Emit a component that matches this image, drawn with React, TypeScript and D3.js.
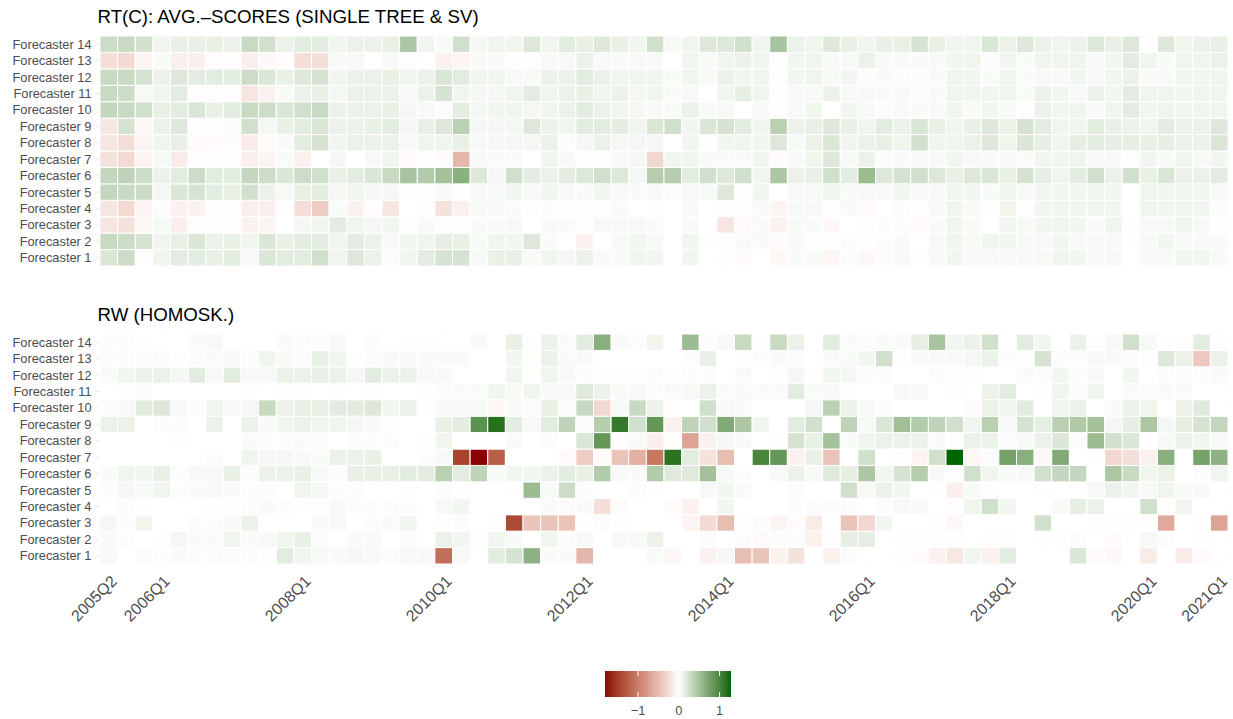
import React from "react";
import * as d3 from "d3";

// ---------- categories ----------
const QUARTERS: string[] = [];
for (let y = 2005; y <= 2021; y++) {
  for (let q = 1; q <= 4; q++) {
    if ((y > 2005 || q >= 2) && (y < 2021 || q <= 1)) QUARTERS.push(`${y}Q${q}`);
  }
}
const X_TICKS = ["2005Q2", "2006Q1", "2008Q1", "2010Q1", "2012Q1", "2014Q1", "2016Q1", "2018Q1", "2020Q1", "2021Q1"];
const FORECASTERS = Array.from({ length: 14 }, (_, i) => `Forecaster ${i + 1}`);
const LEGEND_TICKS = [-1, 0, 1];

// ---------- panel 1: RT(C) ----------
const rtF14 = [0.28,0.3,0.24,0.08,0.12,0.12,0.12,0.1,0.3,0.25,0.1,0.15,0.15,0.08,0.1,0.1, 0.12,0.45,0.08,0.03,0.25,0.06,0.08,0.08,0.18,0.08,0.15,0.12,0.18,0.12,0.08,0.25, 0.05,0.08,0.18,0.18,0.25,0.08,0.48,0.1,0.08,0.18,0.12,0.08,0.12,0.12,0.22,0.12, 0.08,0.08,0.2,0.1,0.18,0.1,0.08,0.1,0.18,0.12,0.18,0.0,0.18,0.08,0.1,0.12];
const rtF13 = [-0.25,-0.28,-0.08,0.03,-0.12,-0.12,-0.02,-0.02,-0.12,-0.05,-0.02,-0.25,-0.25,0.05,0.05,0.0, 0.04,-0.02,0.0,-0.1,-0.08,0.04,0.04,0.01,-0.02,0.05,0.05,0.1,0.05,0.04,0.05,0.05, 0.0,0.08,0.05,0.08,0.1,0.08,-0.01,0.07,0.08,0.04,0.05,0.1,0.04,0.04,0.03,0.05, 0.07,0.08,0.02,0.07,0.03,0.08,0.08,0.08,0.04,0.07,0.15,0.07,0.04,0.08,0.08,0.1];
const rtF12 = [0.3,0.3,0.22,0.1,0.18,0.15,0.15,0.15,0.28,0.2,0.12,0.18,0.22,0.08,0.1,0.1, 0.12,0.08,0.1,0.2,0.15,0.08,0.08,0.05,0.04,0.1,0.1,0.15,0.1,0.08,0.08,0.08, 0.03,0.08,0.05,0.1,0.08,0.08,-0.01,0.07,0.08,0.04,0.07,0.02,0.03,0.02,0.02,0.04, 0.08,0.07,0.03,0.07,0.03,0.05,0.05,0.07,0.04,0.07,0.1,0.04,0.04,0.07,0.07,0.08];
const rtF11 = [0.3,0.28,0.05,0.08,0.15,-0.02,-0.02,-0.02,-0.2,-0.1,0.04,0.1,0.12,0.06,0.1,0.1, 0.1,0.04,0.1,0.22,0.08,0.06,0.06,0.08,0.15,0.08,0.1,0.12,0.08,0.1,0.06,0.08, 0.03,0.05,0.0,0.08,0.13,0.08,-0.01,0.05,0.05,0.1,0.05,0.05,0.04,0.04,0.02,0.04, 0.08,0.08,0.07,0.08,0.03,0.1,0.07,0.05,0.1,0.07,0.15,0.08,0.08,0.07,0.08,0.08];
const rtF10 = [0.32,0.3,0.25,0.12,0.15,0.2,0.12,0.15,0.3,0.28,0.2,0.25,0.3,0.1,0.1,0.1, 0.12,0.06,0.05,0.02,0.14,0.06,0.08,0.08,0.06,0.08,0.1,0.15,0.1,0.08,0.06,0.05, 0.04,0.1,0.04,0.05,0.0,0.05,0.01,0.05,0.08,0.0,0.07,0.04,0.02,0.04,0.03,0.05, 0.08,0.04,0.07,0.05,0.01,0.1,0.07,0.08,0.04,0.08,0.15,0.07,0.08,0.07,0.08,0.08];
const rtF9 = [-0.18,0.22,-0.06,0.1,0.18,-0.02,-0.01,0.02,0.25,0.06,0.12,0.15,0.2,0.1,0.1,0.12, 0.15,0.06,0.12,0.18,0.38,0.06,0.06,0.06,0.18,0.1,0.08,0.15,0.15,0.14,0.08,0.2, 0.25,0.07,0.2,0.22,0.15,0.07,0.38,0.1,0.12,0.18,0.12,0.08,0.15,0.1,0.2,0.12, 0.08,0.12,0.18,0.1,0.22,0.15,0.08,0.08,0.15,0.12,0.1,0.08,0.15,0.1,0.1,0.18];
const rtF8 = [-0.2,-0.25,-0.08,0.08,0.12,-0.04,-0.03,0.02,-0.15,-0.03,0.03,0.15,0.22,0.08,0.1,0.1, 0.1,0.05,0.08,0.08,0.12,0.05,0.06,0.06,0.06,0.1,0.02,0.06,0.1,0.06,0.06,0.06, 0.0,0.08,0.01,0.07,0.08,0.07,0.18,0.05,0.1,0.2,0.08,0.1,0.12,0.08,0.25,0.08, 0.08,0.1,0.18,0.08,0.2,0.13,0.08,0.13,0.15,0.13,0.13,0.12,0.13,0.1,0.1,0.2];
const rtF7 = [-0.22,-0.28,-0.08,0.05,-0.15,-0.02,-0.02,-0.02,-0.12,-0.08,0.03,-0.1,0.0,0.06,0.0,0.05, 0.08,-0.03,0.01,-0.03,-0.55,0.04,0.03,0.03,0.0,0.08,0.05,-0.01,-0.01,0.04,0.06,-0.3, 0.07,0.08,0.04,0.03,0.03,0.07,-0.03,0.04,0.08,0.18,0.05,0.1,0.02,0.04,0.04,0.05, 0.07,0.05,0.04,0.04,0.03,0.07,0.07,0.08,0.04,0.04,-0.02,0.07,0.04,0.07,0.05,0.07];
const rtF6 = [0.32,0.35,0.28,0.1,0.15,0.28,0.15,0.15,0.32,0.28,0.2,0.28,0.25,0.12,0.15,0.2, 0.3,0.48,0.42,0.5,0.64,0.18,0.06,0.25,0.15,0.1,0.14,0.18,0.25,0.18,0.06,0.4, 0.4,0.15,0.25,0.18,0.25,0.07,0.45,0.1,0.12,0.25,0.15,0.55,0.18,0.22,0.25,0.18, 0.12,0.18,0.2,0.12,0.22,0.13,0.08,0.15,0.25,0.1,0.25,0.12,0.2,0.1,0.1,0.15];
const rtF5 = [0.32,0.3,0.28,0.06,0.2,0.22,0.15,0.12,0.25,0.1,0.05,0.12,0.15,0.06,0.08,0.06, 0.06,-0.01,-0.01,0.03,0.01,0.05,0.04,0.07,0.05,0.08,0.05,0.03,0.08,0.05,0.03,0.05, 0.02,0.05,0.05,0.18,0.01,0.07,0.0,0.05,0.05,0.08,0.04,0.04,0.04,0.07,0.03,0.04, 0.07,0.07,0.03,0.07,0.04,0.07,0.07,0.07,0.07,0.07,0.0,0.08,0.07,0.07,0.07,0.04];
const rtF4 = [-0.2,-0.28,-0.08,0.02,-0.1,-0.1,-0.02,-0.02,-0.12,-0.12,-0.02,-0.25,-0.38,0.03,-0.1,-0.02, -0.18,0.0,-0.01,-0.22,-0.1,0.04,0.04,0.03,-0.02,0.02,-0.02,-0.01,-0.01,0.03,0.0,-0.01, 0.0,0.04,0.0,-0.01,-0.01,0.04,-0.08,0.05,0.05,-0.01,0.04,-0.03,0.0,0.02,-0.02,0.04, 0.08,0.04,0.01,0.08,0.01,0.07,0.07,0.07,0.07,0.07,0.0,0.08,0.07,0.08,0.07,0.02];
const rtF3 = [-0.2,-0.22,-0.06,0.05,-0.12,-0.02,-0.02,-0.02,-0.1,-0.08,0.0,0.06,0.08,0.15,0.08,0.06, 0.07,-0.02,0.04,-0.02,-0.02,0.04,0.04,0.05,0.0,0.04,0.04,-0.02,0.05,0.05,0.05,0.03, 0.0,0.04,0.0,-0.2,-0.04,0.04,-0.1,0.05,0.04,-0.05,0.0,-0.02,0.02,0.02,-0.04,0.04, 0.08,0.04,0.0,0.07,0.05,0.07,0.08,0.07,0.04,0.08,0.01,0.05,0.05,0.08,0.05,0.01];
const rtF2 = [0.3,0.28,0.22,0.08,0.12,0.2,0.1,0.12,0.08,0.2,0.12,0.15,0.15,0.08,0.15,0.1, 0.05,0.07,0.08,0.13,0.12,0.04,0.08,0.07,0.18,0.03,0.0,-0.1,0.0,0.05,0.07,0.05, 0.0,0.07,-0.01,-0.01,0.03,0.04,-0.03,0.04,0.01,0.01,0.02,0.01,0.02,0.03,0.0,0.05, 0.08,0.04,0.08,0.07,0.05,0.05,0.07,0.05,0.05,0.04,0.01,0.05,0.07,0.05,0.04,0.04];
const rtF1 = [0.2,0.28,0.01,0.08,0.15,0.15,0.12,0.15,0.04,0.2,0.15,0.15,0.25,0.08,0.18,0.1, 0.02,0.07,0.15,0.22,0.22,0.05,0.12,0.12,0.04,0.08,0.06,0.1,0.04,0.04,0.08,0.07, 0.0,0.07,0.0,0.01,-0.03,0.0,-0.06,0.04,0.04,-0.07,0.02,-0.05,0.02,0.04,0.01,0.04, 0.07,0.04,0.04,0.05,0.04,0.05,0.08,0.07,0.04,0.05,0.0,0.04,0.04,0.07,0.07,0.04];

// ---------- panel 2: RW ----------
const rwF14 = [0.02,0.02,0.01,0.0,0.0,0.03,0.05,0.0,0.0,0.0,0.03,0.02,0.02,0.04,0.0,0.02, 0.0,0.01,0.01,0.0,0.0,0.04,0.0,0.12,0.01,0.1,0.03,0.15,0.65,0.03,0.02,0.08, 0.0,0.54,0.02,0.05,0.3,0.01,0.3,0.1,0.0,0.15,0.03,0.02,0.03,0.03,0.13,0.48, 0.07,0.1,0.25,0.0,0.15,0.07,0.0,0.1,0.01,0.05,0.25,0.05,-0.01,-0.01,0.15,0.01];
const rwF13 = [0.02,0.02,0.02,0.02,0.01,0.02,0.03,0.05,0.02,0.08,0.04,0.02,0.12,0.08,0.01,0.02, 0.04,0.04,0.04,0.04,0.03,0.0,0.0,0.07,-0.01,0.1,0.04,0.03,0.0,0.0,0.0,0.0, 0.0,0.02,0.12,0.0,0.01,0.02,0.03,0.02,0.0,0.03,0.04,0.07,0.25,-0.01,0.03,0.04, 0.04,0.06,0.1,0.02,0.01,0.22,0.02,0.02,0.05,0.04,0.02,-0.01,0.18,0.1,-0.42,0.1];
const rwF12 = [0.03,0.07,0.1,0.1,0.06,0.15,0.05,0.15,0.05,0.05,0.1,0.1,0.12,0.1,0.06,0.15, 0.1,0.1,0.05,0.04,0.0,0.0,0.0,0.08,-0.01,0.08,0.05,0.02,-0.02,0.01,0.01,0.02, 0.01,0.02,0.02,0.0,0.03,0.0,0.01,0.06,-0.01,0.07,0.06,0.02,0.02,0.0,0.0,0.02, 0.01,-0.01,0.0,0.0,0.03,0.02,0.07,0.02,0.04,0.0,0.07,0.0,0.02,0.02,0.02,0.03];
const rwF11 = [0.0,0.01,0.02,0.0,0.0,0.0,0.0,0.0,0.01,0.0,0.01,0.01,0.0,0.01,0.0,0.01, 0.0,0.0,0.01,0.02,0.03,0.03,0.07,0.04,0.08,0.04,0.05,0.17,0.1,0.04,0.05,0.02, 0.03,0.05,0.1,0.03,0.04,0.03,0.03,0.15,0.03,0.05,0.01,0.0,0.0,0.05,0.04,0.0, 0.01,0.0,0.1,0.15,0.0,0.01,0.08,0.02,0.07,0.0,0.03,0.02,0.03,0.03,0.0,0.0];
const rwF10 = [0.02,0.04,0.15,0.18,0.05,0.02,0.08,0.04,0.06,0.3,0.1,0.12,0.12,0.15,0.15,0.18, 0.07,0.1,0.01,0.03,0.04,0.05,-0.06,0.04,0.02,0.12,0.02,0.3,-0.3,0.04,0.3,0.1, -0.01,0.0,0.25,0.04,0.04,0.0,0.0,0.0,0.06,0.38,0.1,0.05,0.02,0.0,0.0,0.0, 0.0,0.02,0.1,0.08,0.15,0.0,0.08,0.1,0.0,0.03,0.1,0.08,0.0,0.1,0.17,0.0];
const rwF9 = [0.1,0.1,0.0,0.02,0.02,0.0,0.1,0.0,0.1,0.04,0.08,0.1,0.08,0.08,0.06,0.04, 0.01,0.0,0.0,0.12,0.15,0.9,1.17,0.15,0.05,0.15,0.35,0.02,0.4,1.1,0.25,0.85, -0.1,0.35,0.25,0.7,0.45,0.07,0.0,0.15,0.25,0.0,0.35,0.05,0.2,0.52,0.42,0.35, 0.25,0.07,0.38,0.05,0.22,0.13,0.38,0.43,0.5,0.06,0.13,0.45,0.06,0.13,0.22,0.32];
const rwF8 = [0.0,0.0,0.0,0.0,0.01,0.0,0.0,0.0,0.03,0.02,0.02,0.03,0.02,0.0,0.02,0.02, 0.02,0.0,0.01,0.08,0.0,0.0,0.0,0.03,0.0,0.02,0.0,0.2,0.85,-0.02,0.03,-0.12, -0.01,-0.7,-0.1,0.06,0.03,0.0,-0.02,0.22,0.12,0.5,0.03,0.08,0.1,0.1,0.1,0.03, -0.02,0.1,0.1,0.02,0.04,0.1,0.2,0.02,0.55,0.25,0.2,0.0,0.05,0.1,0.07,0.05];
const rwF7 = [0.0,0.0,0.0,0.0,0.0,0.0,0.02,0.0,0.08,0.06,0.06,0.04,0.03,0.1,0.1,0.12, 0.0,0.0,0.02,0.05,-1.45,-1.81,-1.25,0.0,0.0,0.0,-0.04,-0.38,-0.03,-0.45,-0.6,-1.05, 1.15,0.15,-0.22,-0.5,0.0,1.0,0.85,-0.1,0.12,-0.45,0.0,0.25,0.0,-0.01,-0.08,0.25, 1.28,-0.07,0.02,0.75,0.65,-0.05,0.7,0.0,0.01,-0.3,-0.25,-0.1,0.65,0.0,0.75,0.62];
const rwF6 = [0.03,0.08,0.08,0.12,0.02,0.05,0.05,0.12,0.02,0.1,0.1,0.12,0.05,0.02,0.12,0.12, 0.12,0.15,0.15,0.38,0.15,0.35,0.04,0.07,0.07,0.1,0.15,0.12,0.42,0.05,0.03,0.42, 0.17,0.17,0.5,0.05,0.02,0.0,0.05,0.1,0.05,0.17,0.13,0.45,0.07,0.22,0.4,0.05, -0.02,0.25,0.08,0.05,0.05,0.25,0.32,0.32,0.0,0.45,0.3,0.08,0.1,0.0,0.02,0.08];
const rwF5 = [0.02,0.06,0.04,0.08,0.02,0.03,0.05,0.03,0.02,0.02,0.0,0.08,0.06,0.02,0.02,0.0, 0.0,-0.01,0.0,0.02,0.01,0.0,0.0,0.01,0.55,0.04,0.28,0.02,0.0,0.0,0.02,0.01, 0.0,0.0,0.05,0.07,0.04,0.0,0.0,0.02,0.0,0.0,0.25,0.04,0.1,0.07,0.0,0.01, -0.12,0.04,0.01,0.0,0.0,0.01,0.0,0.0,0.05,0.1,0.07,0.05,0.08,0.04,0.04,0.0];
const rwF4 = [0.0,0.02,0.01,0.0,0.0,0.0,0.01,0.01,0.02,0.03,0.02,0.01,0.01,0.04,0.02,0.02, 0.02,0.02,0.0,0.05,0.07,0.0,0.0,0.0,0.0,0.03,0.02,0.03,-0.25,-0.04,0.0,0.0, -0.03,-0.1,0.0,0.07,0.0,0.0,0.0,0.02,0.02,0.02,0.02,0.0,0.02,0.05,0.04,0.0, -0.02,0.08,0.25,0.07,0.0,0.0,0.04,0.13,0.1,0.0,0.0,0.25,-0.01,0.07,0.0,0.0];
const rwF3 = [0.06,0.02,0.08,0.0,0.0,0.02,0.02,0.04,0.1,0.0,0.0,0.0,0.04,0.05,0.0,0.02, 0.03,0.07,0.0,-0.01,0.02,0.0,-0.01,-1.4,-0.45,-0.45,-0.45,0.01,0.02,0.01,0.0,0.0, 0.0,-0.08,-0.28,-0.5,-0.02,0.02,-0.08,-0.03,-0.15,0.0,-0.45,-0.3,0.07,0.0,0.0,-0.01, -0.05,0.0,0.0,0.0,0.0,0.25,0.0,0.0,0.01,0.01,-0.01,-0.01,-0.65,0.0,-0.01,-0.7];
const rwF2 = [0.04,0.02,0.0,0.01,0.06,0.03,0.03,0.08,0.03,0.05,0.08,0.12,0.02,0.0,0.04,0.04, 0.0,0.02,0.0,0.1,0.07,0.01,0.07,0.03,0.0,0.08,0.02,0.05,0.0,0.05,0.05,0.1, 0.0,0.0,0.02,0.0,0.02,-0.04,0.02,0.02,-0.1,-0.02,0.13,0.13,0.0,-0.01,-0.02,-0.02, -0.01,0.0,-0.01,-0.01,0.0,0.01,0.01,0.02,0.0,-0.03,0.0,0.05,0.02,0.0,0.01,0.0];
const rwF1 = [0.05,0.0,0.02,0.02,0.03,0.02,0.02,0.02,0.02,0.01,0.15,0.08,0.05,0.04,0.06,0.05, 0.02,0.05,0.05,-1.12,0.05,0.0,0.15,0.22,0.62,0.03,0.03,-0.55,0.0,0.0,0.0,0.04, -0.07,0.0,-0.1,0.06,-0.5,-0.45,-0.1,-0.22,0.0,-0.1,0.02,0.0,0.0,-0.01,-0.03,-0.1, -0.17,0.08,-0.1,0.15,0.0,0.0,0.0,0.2,-0.03,-0.05,0.0,-0.15,0.0,-0.15,-0.03,0.0];

const RT_ROWS = [rtF1, rtF2, rtF3, rtF4, rtF5, rtF6, rtF7, rtF8, rtF9, rtF10, rtF11, rtF12, rtF13, rtF14];
const RW_ROWS = [rwF1, rwF2, rwF3, rwF4, rwF5, rwF6, rwF7, rwF8, rwF9, rwF10, rwF11, rwF12, rwF13, rwF14];

const PANELS = [
  { title: "RT(C): AVG.\u2013SCORES (SINGLE TREE & SV)", rows: RT_ROWS, top: 36, axis: false },
  { title: "RW (HOMOSK.)", rows: RW_ROWS, top: 334, axis: true },
];

const FONT = "'Liberation Sans', Arial, Helvetica, sans-serif";
const LEFT = 100;
const RIGHT = 1228;
const PANEL_H = 230;
const GRID = "#ebebeb";
const AXIS_TEXT = "#4d4d4d";

const allVals = [...RT_ROWS.flat(), ...RW_ROWS.flat()];
const vMin = d3.min(allVals) as number;
const vMax = d3.max(allVals) as number;
const color = d3
  .scaleLinear<string>()
  .domain([vMin, 0, vMax])
  .range(["#8b0000", "#ffffff", "#006400"])
  .interpolate(d3.interpolateLab);

const x = d3.scaleBand<string>().domain(QUARTERS).range([LEFT, RIGHT]).padding(0);

function Panel({ title, rows, top, axis }: { title: string; rows: number[][]; top: number; axis: boolean }) {
  const y = d3
    .scaleBand<string>()
    .domain([...FORECASTERS].reverse())
    .range([top, top + PANEL_H])
    .padding(0);
  const bw = x.bandwidth();
  const bh = y.bandwidth();
  return (
    <g>
      <text x={97.5} y={top - 13} fontSize={18.7} fill="#000" fontFamily={FONT}>
        {title}
      </text>
      {/* grid */}
      {FORECASTERS.map((f) => (
        <line key={"h" + f} x1={96} x2={1230} y1={(y(f) as number) + bh / 2} y2={(y(f) as number) + bh / 2} stroke={GRID} strokeWidth={1} />
      ))}
      {X_TICKS.map((q) => (
        <line key={"v" + q} x1={(x(q) as number) + bw / 2} x2={(x(q) as number) + bw / 2} y1={top - 2} y2={top + PANEL_H + 2} stroke={GRID} strokeWidth={1} />
      ))}
      {/* tiles */}
      {rows.map((vals, i) =>
        vals.map((v, j) => (
          <rect
            key={`${i}-${j}`}
            x={x(QUARTERS[j]) as number}
            y={y(FORECASTERS[i]) as number}
            width={bw}
            height={bh}
            fill={color(v)}
            stroke="#ffffff"
            strokeWidth={1}
          />
        ))
      )}
      {/* y labels */}
      {FORECASTERS.map((f) => (
        <text
          key={"l" + f}
          x={91.5}
          y={(y(f) as number) + bh / 2}
          dy="0.35em"
          textAnchor="end"
          fontSize={12.8}
          fill={AXIS_TEXT}
          fontFamily={FONT}
        >
          {f}
        </text>
      ))}
      {axis &&
        X_TICKS.map((q) => (
          <text
            key={"x" + q}
            transform={`translate(${(x(q) as number) + bw / 2 + 1},${top + PANEL_H + 10}) rotate(-45)`}
            textAnchor="end"
            dy="0.72em"
            fontSize={16}
            fill={AXIS_TEXT}
            fontFamily={FONT}
          >
            {q}
          </text>
        ))}
    </g>
  );
}

function Legend() {
  const lx0 = 605;
  const lx1 = 731;
  const ly0 = 671;
  const ly1 = 697;
  const ls = d3.scaleLinear().domain([vMin, vMax]).range([lx0, lx1]);
  const stops = d3.range(0, 41).map((i) => {
    const v = vMin + ((vMax - vMin) * i) / 40;
    return { off: (i / 40) * 100, c: color(v) };
  });
  return (
    <g>
      <defs>
        <linearGradient id="lg" x1="0" x2="1" y1="0" y2="0">
          {stops.map((s, i) => (
            <stop key={i} offset={`${s.off}%`} stopColor={s.c} />
          ))}
        </linearGradient>
      </defs>
      <rect x={lx0} y={ly0} width={lx1 - lx0} height={ly1 - ly0} fill="url(#lg)" />
      {LEGEND_TICKS.map((t) => (
        <g key={t}>
          <line x1={ls(t)} x2={ls(t)} y1={ly0} y2={ly0 + 5} stroke="#fff" strokeWidth={1} />
          <line x1={ls(t)} x2={ls(t)} y1={ly1 - 5} y2={ly1} stroke="#fff" strokeWidth={1} />
          <text x={ls(t)} y={715} textAnchor="middle" fontSize={12.8} fill={AXIS_TEXT} fontFamily={FONT}>
            {t < 0 ? `\u2212${Math.abs(t)}` : `${t}`}
          </text>
        </g>
      ))}
    </g>
  );
}

export default function App() {
  return (
    <svg
      width={1233}
      height={719}
      style={{ position: "absolute", left: 0, top: 0, background: "#fff" }}
      xmlns="http://www.w3.org/2000/svg"
    >
      <rect x={0} y={0} width={1233} height={719} fill="#fff" />
      {PANELS.map((p) => (
        <Panel key={p.title} {...p} />
      ))}
      <Legend />
    </svg>
  );
}
